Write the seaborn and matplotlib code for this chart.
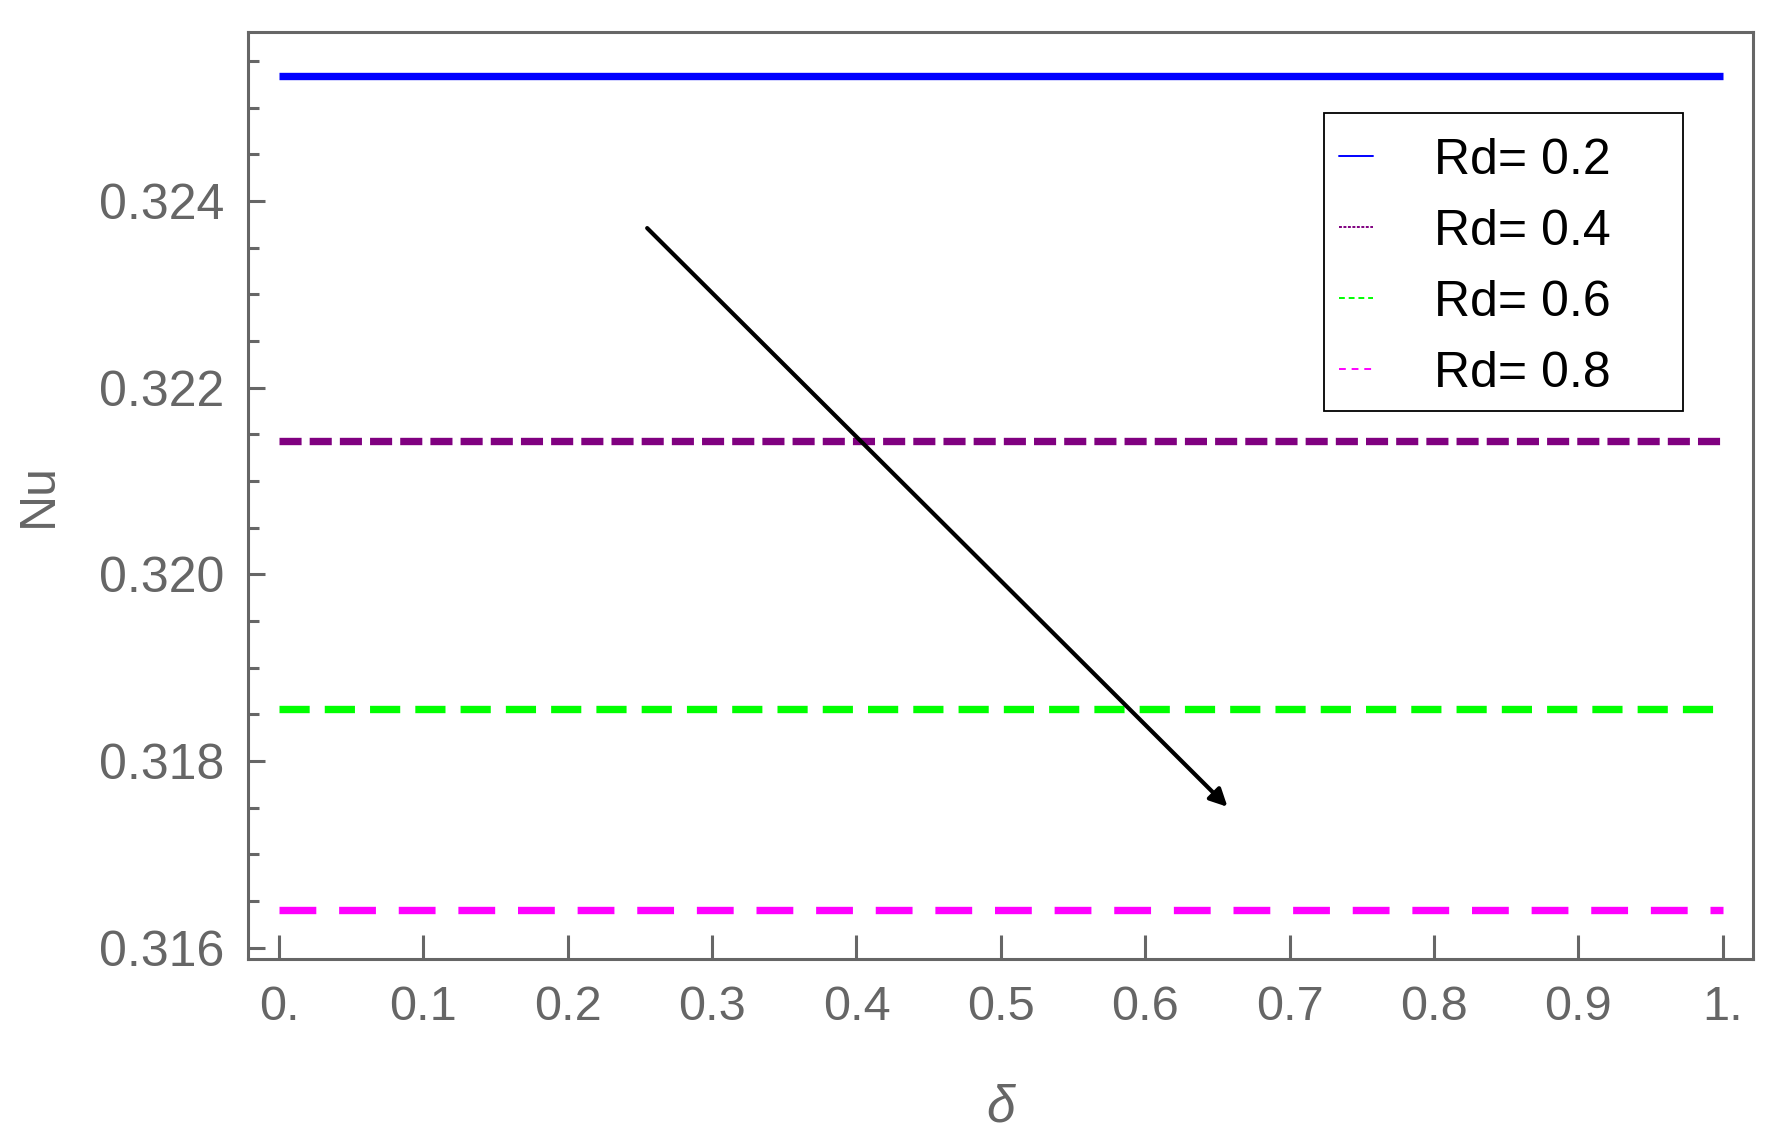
import numpy as np
import pandas as pd
import matplotlib
matplotlib.use("Agg")
import matplotlib.pyplot as plt
from matplotlib.lines import Line2D
from matplotlib.patches import Rectangle
import seaborn as sns

# valores
delta = [0.0, 0.25, 0.5, 0.75, 1.0]
nu_rd02 = [0.32534, 0.32534, 0.32534, 0.32534, 0.32534]
nu_rd04 = [0.32143, 0.32143, 0.32143, 0.32143, 0.32143]
nu_rd06 = [0.31856, 0.31856, 0.31856, 0.31856, 0.31856]
nu_rd08 = [0.31640, 0.31640, 0.31640, 0.31640, 0.31640]
rd_labels = ["Rd= 0.2", "Rd= 0.4", "Rd= 0.6", "Rd= 0.8"]
cores = ["#0000ff", "#800080", "#00ff00", "#ff00ff"]

xticks = [0.0, 0.1, 0.2, 0.3, 0.4, 0.5, 0.6, 0.7, 0.8, 0.9, 1.0]
xtick_labels = ["0.", "0.1", "0.2", "0.3", "0.4", "0.5", "0.6", "0.7", "0.8", "0.9", "1."]
yticks = [0.316, 0.318, 0.320, 0.322, 0.324]
ytick_labels = ["0.316", "0.318", "0.320", "0.322", "0.324"]

# seta (início, fim)
seta_ini = (0.255, 0.32371)
seta_fim = (0.657, 0.31751)

df = pd.DataFrame({
    "delta": delta * 4,
    "Nu": nu_rd02 + nu_rd04 + nu_rd06 + nu_rd08,
    "Rd": [r for r in rd_labels for _ in delta],
})

sns.set_style("ticks")
plt.rcParams['font.family'] = ['Liberation Sans', 'DejaVu Sans']
cinza = "#666666"

fig = plt.figure(figsize=(17.7, 11.35), dpi=100)
ax = fig.add_axes([248 / 1770, 1 - 959 / 1135, 1505 / 1770, 927.4 / 1135])

dashes = {rd_labels[0]: "", rd_labels[1]: (3.0, 1.1), rd_labels[2]: (4.1, 2.05), rd_labels[3]: (5.0, 3.1)}
sns.lineplot(data=df, x="delta", y="Nu", hue="Rd", style="Rd",
             palette=dict(zip(rd_labels, cores)), dashes=dashes,
             linewidth=5.3, ax=ax, legend=False, solid_capstyle="butt")

ax.set_xlim(-0.0215, 1.021)
ax.set_ylim(0.31588, 0.325815)
ax.set_xticks(xticks)
ax.set_xticklabels(xtick_labels)
ax.set_yticks(yticks)
ax.set_yticklabels(ytick_labels)
ax.set_yticks(np.arange(0.3165, 0.3258, 0.0005), minor=True)

for s in ax.spines.values():
    s.set_color(cinza)
    s.set_linewidth(2.2)

ax.tick_params(axis="y", which="major", direction="in", length=12, width=2.2,
               color=cinza, labelcolor=cinza, labelsize=36, pad=17)
ax.tick_params(axis="y", which="minor", direction="in", length=8, width=2.2, color=cinza)
ax.tick_params(axis="x", which="major", direction="in", length=17, width=2.2,
               color=cinza, labelcolor=cinza, labelsize=35, pad=19)

ax.set_xlabel("δ", fontsize=37, color=cinza, fontstyle="italic", labelpad=38)
ax.set_ylabel("Nu", fontsize=36, color=cinza, labelpad=27)

ax.annotate("", xy=seta_fim, xytext=seta_ini,
            arrowprops=dict(arrowstyle="-|>", color="black", lw=3,
                            mutation_scale=26, shrinkA=0, shrinkB=0))

# legenda com traços finos
handles = [
    Line2D([], [], color=cores[0], lw=1.4),
    Line2D([], [], color=cores[1], lw=1.4, dashes=(1.5, 0.8)),
    Line2D([], [], color=cores[2], lw=1.4, dashes=(3, 2)),
    Line2D([], [], color=cores[3], lw=1.4, dashes=(3.5, 3)),
]
leg = ax.legend(handles, rd_labels, loc="upper left", bbox_to_anchor=(0.725, 0.8853),
                borderaxespad=0, fontsize=36, handlelength=0.68, handletextpad=1.22,
                borderpad=0, labelspacing=0.5, frameon=False, labelcolor="black")
ax.add_patch(Rectangle((0.715, 0.591), 0.2385, 0.321, transform=ax.transAxes,
                       fill=False, edgecolor="black", linewidth=1.3, zorder=5))

fig.savefig("out.png", dpi=100)
